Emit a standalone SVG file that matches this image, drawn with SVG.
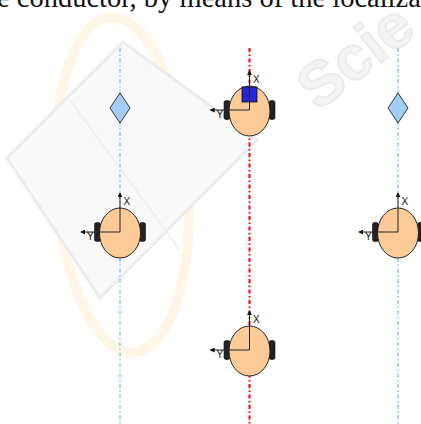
<svg xmlns="http://www.w3.org/2000/svg" width="421" height="424" viewBox="0 0 421 424">
  <defs>
    <style>
      .caption { font-family: "Liberation Serif", "Times New Roman", serif; font-size: 28.5px; fill: #111; }
      .track-blue { stroke: #99c8f8; stroke-width: 1.6; stroke-dasharray: 4 2.5 1.5 2.5; fill: none; }
      .track-red { stroke: #ff0000; stroke-width: 2; stroke-dasharray: 4 2.5 1.5 2.5; fill: none; }
      .head { fill: #fdcb98; stroke: #222; stroke-width: 1; }
      .phone { fill: #222; stroke: #111; stroke-width: 0.6; }
      .axis { stroke: #222; stroke-width: 1; fill: none; marker-end: url(#tip); }
      .lbl { font-family: "Liberation Sans", Arial, sans-serif; font-size: 10px; fill: #111; }
      .beacon { fill: #a4cdf8; stroke: #333; stroke-width: 1; }
    </style>
    <marker id="tip" viewBox="0 0 6 6" refX="5" refY="3" markerWidth="5" markerHeight="5" orient="auto" markerUnits="userSpaceOnUse">
      <path d="M0,0 L6,3 L0,6 z" fill="#111"/>
    </marker>
    <!-- listener: head centred on the axis origin -->
    <g id="listener">
      <rect class="phone" x="-25.5" y="-9.5" width="6" height="19" rx="2"/>
      <rect class="phone" x="19.5" y="-9.5" width="6" height="19" rx="2"/>
      <ellipse class="head" cx="0" cy="1" rx="20.5" ry="25"/>
    </g>
    <g id="frame">
      <line class="axis" x1="0" y1="0" x2="0" y2="-39"/>
      <line class="axis" x1="0" y1="0" x2="-39" y2="0"/>
      <text class="lbl" x="3.5" y="-27.5">X</text>
      <text class="lbl" x="-33" y="8">Y</text>
    </g>
  </defs>

  <rect width="421" height="424" fill="#ffffff"/>

  <!-- faint background logo -->
  <g id="logo">
    <ellipse cx="122" cy="185" rx="66" ry="168" transform="rotate(-4 122 185)" fill="none" stroke="#fef7e8" stroke-width="10"/>
    <polygon points="123,42 7,158 100,298 257,140" fill="#f9f9f9" stroke="#ececec" stroke-width="3"/>
    <line x1="70" y1="100" x2="180" y2="250" stroke="#f0f0f0" stroke-width="2"/>
    <text x="318" y="112" transform="rotate(-38 318 112)" font-family="Liberation Sans, Arial, sans-serif" font-size="62" font-weight="bold" fill="#f4f4f4" stroke="#ebebeb" stroke-width="2">Scie</text>
  </g>

  <!-- running text line above the figure -->
  <text class="caption" x="-3" y="7">e conductor, by means of the localiza</text>

  <!-- walking tracks -->
  <g id="connectors">
    <line class="track-blue" x1="120" y1="48" x2="120" y2="424"/>
    <line class="track-red" x1="249.5" y1="48" x2="249.5" y2="424"/>
    <line class="track-blue" x1="398" y1="48" x2="398" y2="424"/>
  </g>

  <!-- beacons -->
  <g id="beacon-left">
    <polygon class="beacon" points="120,93 130,108 120,123 110,108"/>
  </g>
  <g id="beacon-right">
    <polygon class="beacon" points="398,93 408,108 398,123 388,108"/>
  </g>

  <!-- listeners -->
  <g id="listener-top" transform="translate(249.5 110)">
    <use href="#listener"/>
    <rect x="-7.5" y="-23" width="15" height="15" fill="#2424d8" stroke="#111" stroke-width="0.8"/>
    <use href="#frame"/>
  </g>
  <g id="listener-left" transform="translate(120 232)">
    <use href="#listener"/>
    <use href="#frame"/>
  </g>
  <g id="listener-right" transform="translate(398 232)">
    <use href="#listener"/>
    <use href="#frame"/>
  </g>
  <g id="listener-bottom" transform="translate(249.5 350)">
    <use href="#listener"/>
    <use href="#frame"/>
  </g>
</svg>
